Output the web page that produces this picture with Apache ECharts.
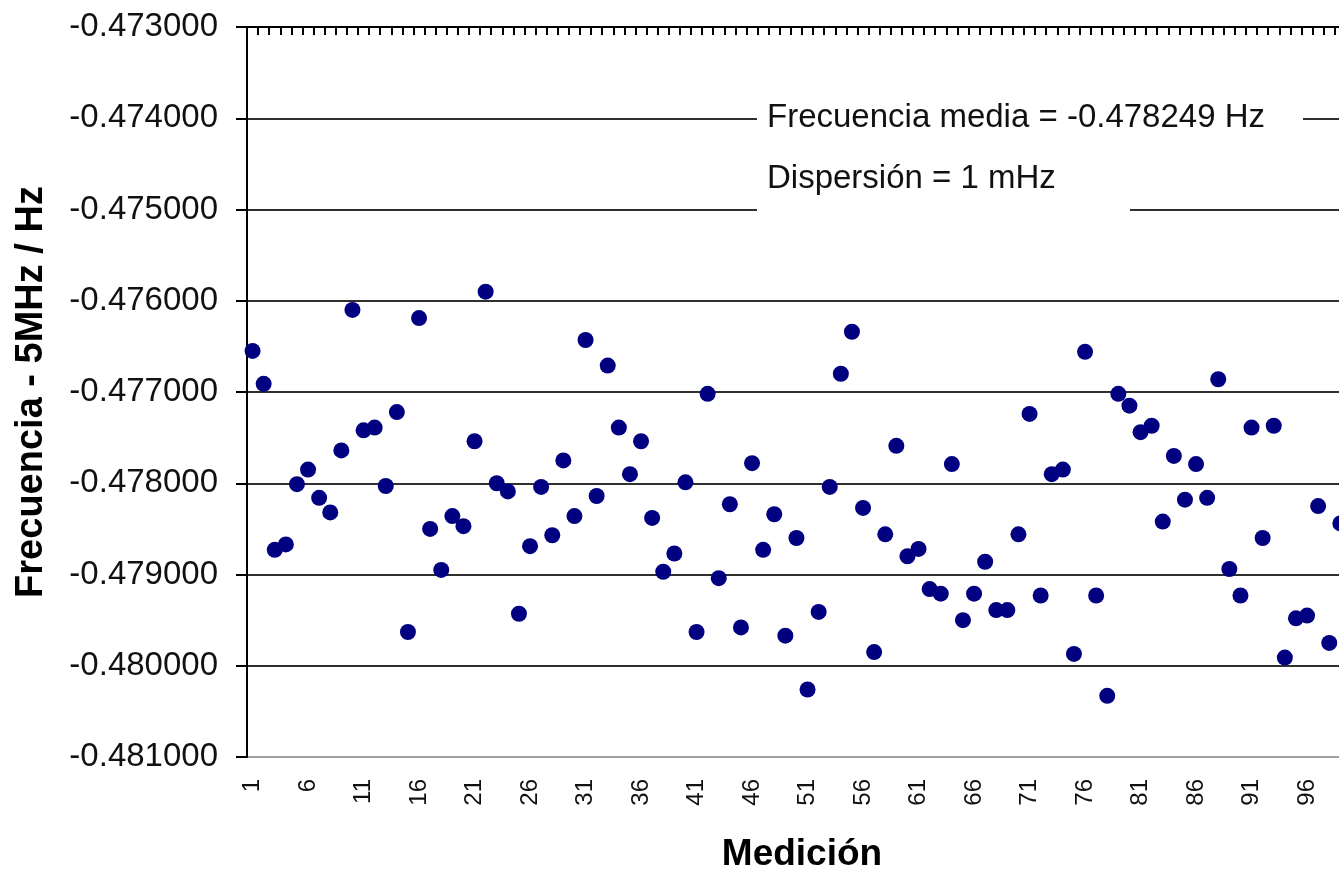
<!DOCTYPE html>
<html>
<head>
<meta charset="utf-8">
<title>Frecuencia - 5MHz</title>
<script src="https://cdn.jsdelivr.net/npm/echarts@6/dist/echarts.min.js"></script>
<style>
  html, body { margin: 0; padding: 0; background: #fff; }
  #chart { width: 1339px; height: 869px; }
</style>
</head>
<body>
<div id="chart"></div>
<script>
// Measurement index (category axis runs past the last reading)
const mediciones = Array.from({ length: 100 }, (_, i) => String(i + 1));

// Frequency offset from 5 MHz for each measurement, in Hz
const frecuencia = [
  -0.47655, -0.47691, -0.47873, -0.47867, -0.47801, -0.47785, -0.47816, -0.47832, -0.47764, -0.47610,
  -0.47742, -0.47739, -0.47803, -0.47722, -0.47963, -0.47619, -0.47850, -0.47895, -0.47836, -0.47847,
  -0.47754, -0.47590, -0.47800, -0.47809, -0.47943, -0.47869, -0.47804, -0.47857, -0.47775, -0.47836,
  -0.47643, -0.47814, -0.47671, -0.47739, -0.47790, -0.47754, -0.47838, -0.47897, -0.47877, -0.47799,
  -0.47963, -0.47702, -0.47904, -0.47823, -0.47958, -0.47778, -0.47873, -0.47834, -0.47967, -0.47860,
  -0.48026, -0.47941, -0.47804, -0.47680, -0.47634, -0.47827, -0.47985, -0.47856, -0.47759, -0.47880,
  -0.47872, -0.47916, -0.47921, -0.47779, -0.47950, -0.47921, -0.47886, -0.47939, -0.47939, -0.47856,
  -0.47724, -0.47923, -0.47790, -0.47785, -0.47987, -0.47656, -0.47923, -0.48033, -0.47702, -0.47715,
  -0.47744, -0.47737, -0.47842, -0.47770, -0.47818, -0.47779, -0.47816, -0.47686, -0.47894, -0.47923,
  -0.47739, -0.47860, -0.47737, -0.47991, -0.47948, -0.47945, -0.47825, -0.47975, -0.47844
];

// Value axis range and step
const yMin = -0.481;
const yMax = -0.473;
const yStep = 0.001;

// Summary statistics shown in the plot
const textoMedia = 'Frecuencia media = -0.478249 Hz';
const textoDispersion = 'Dispersión = 1 mHz';

const FONT = '"Liberation Sans", Arial, Helvetica, sans-serif';

const chart = echarts.init(document.getElementById('chart'), null, { renderer: 'canvas' });

// First split line (bottom edge) is lighter than the inner grid lines
const gridColors = ['#a0a0a0'];
for (let i = 0; i < 8; i++) gridColors.push('#303030');

chart.setOption({
  animation: false,
  backgroundColor: '#ffffff',
  grid: {
    left: 247,
    top: 27,
    width: 1110,
    height: 730,
    containLabel: false,
    outerBoundsMode: 'none'
  },
  xAxis: [
    {
      type: 'category',
      data: mediciones,
      position: 'bottom',
      boundaryGap: true,
      axisLine: { show: false },
      axisTick: { show: false },
      splitLine: { show: false },
      axisLabel: {
        interval: 4,
        rotate: 90,
        margin: 22,
        fontSize: 24,
        fontFamily: FONT,
        color: '#111'
      },
      name: 'Medición',
      nameLocation: 'middle',
      nameGap: 79,
      nameTextStyle: {
        fontSize: 37,
        fontWeight: 'bold',
        fontFamily: FONT,
        color: '#000'
      }
    },
    {
      type: 'category',
      data: mediciones,
      position: 'top',
      boundaryGap: true,
      axisLine: { show: true, onZero: false, lineStyle: { color: '#000', width: 2 } },
      axisTick: { show: true, inside: true, interval: 0, length: 8, lineStyle: { color: '#000', width: 2 } },
      axisLabel: { show: false },
      splitLine: { show: false }
    }
  ],
  yAxis: {
    type: 'value',
    min: yMin,
    max: yMax,
    interval: yStep,
    axisLine: { show: true, onZero: false, lineStyle: { color: '#000', width: 2 } },
    axisTick: { show: true, length: 11, lineStyle: { color: '#000', width: 2 } },
    splitLine: { show: true, lineStyle: { color: gridColors, width: 2 } },
    axisLabel: {
      margin: 29,
      fontSize: 33,
      fontFamily: FONT,
      color: '#111',
      formatter: v => v.toFixed(6)
    },
    name: 'Frecuencia - 5MHz / Hz',
    nameLocation: 'middle',
    nameRotate: 90,
    nameGap: 196,
    nameTextStyle: {
      fontSize: 38,
      fontWeight: 'bold',
      fontFamily: FONT,
      color: '#000'
    }
  },
  // Statistics boxes with opaque white background over the grid lines
  graphic: [
    { type: 'rect', z: 100, shape: { x: 757, y: 88, width: 546, height: 60 }, style: { fill: '#fff' } },
    {
      type: 'text', z: 101, x: 767, y: 118,
      style: { text: textoMedia, fontSize: 33, fontFamily: FONT, fill: '#111', verticalAlign: 'middle', align: 'left' }
    },
    { type: 'rect', z: 100, shape: { x: 757, y: 150, width: 373, height: 62 }, style: { fill: '#fff' } },
    {
      type: 'text', z: 101, x: 767, y: 179,
      style: { text: textoDispersion, fontSize: 33, fontFamily: FONT, fill: '#111', verticalAlign: 'middle', align: 'left' }
    }
  ],
  series: [
    {
      type: 'scatter',
      xAxisIndex: 0,
      data: frecuencia,
      symbol: 'circle',
      symbolSize: 16,
      itemStyle: { color: '#000080', opacity: 1 },
      z: 3
    }
  ]
});
</script>
</body>
</html>
